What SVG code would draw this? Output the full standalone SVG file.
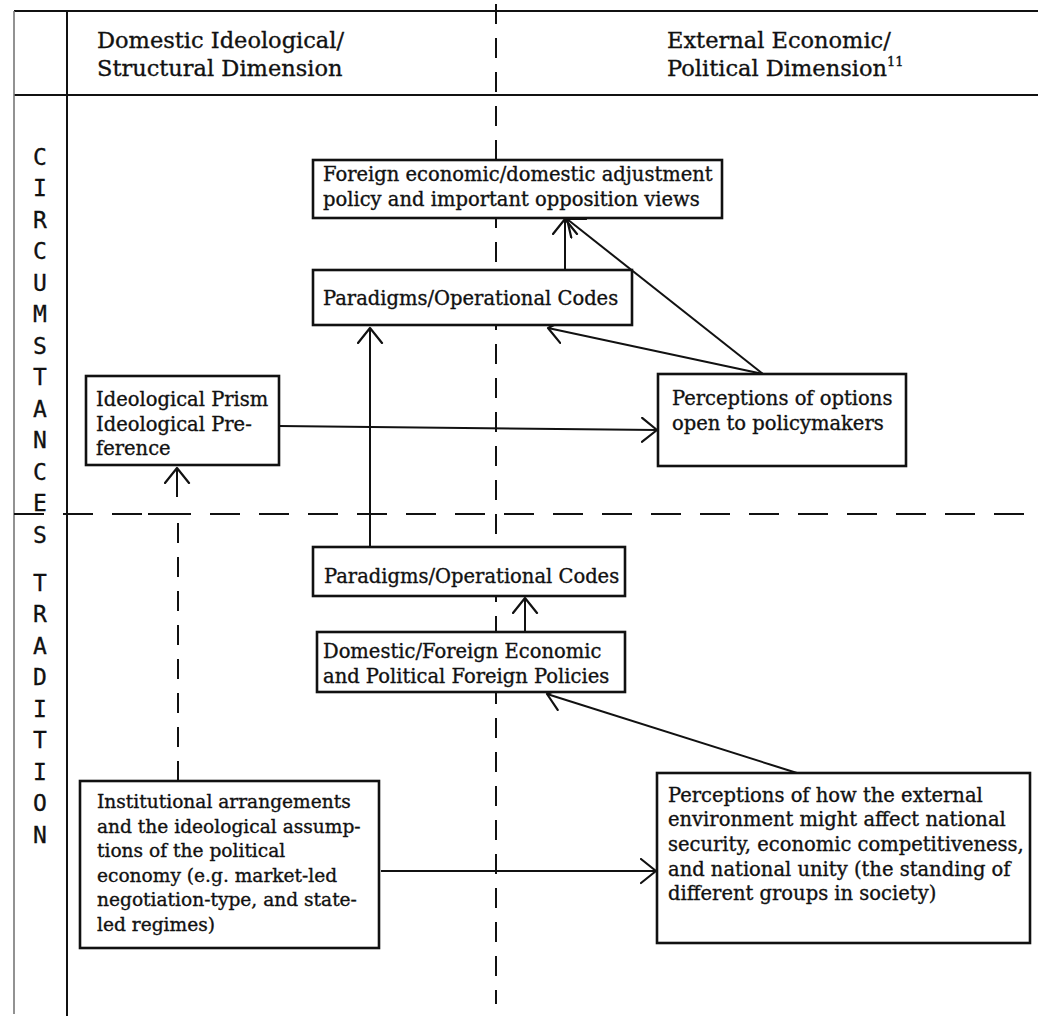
<svg xmlns="http://www.w3.org/2000/svg" width="1038" height="1020" viewBox="0 0 1038 1020">
<style>
.bg{fill:#fff}
.frame{stroke:#111;stroke-width:2;fill:none}
.faint{stroke:#777;stroke-width:1.6;fill:none}
.dash{stroke:#111;stroke-width:2;fill:none;stroke-dasharray:30 19}
.vdash{stroke:#111;stroke-width:2;fill:none;stroke-dasharray:20 14}
.box{fill:#fff;stroke:#111;stroke-width:2.6}
.line{stroke:#111;stroke-width:2;fill:none}
.t{font-family:"DejaVu Serif","Liberation Serif",serif;font-size:19.5px;fill:#111;stroke:#111;stroke-width:0.35}
.ts{font-size:18.6px}
.h{font-family:"DejaVu Serif","Liberation Serif",serif;font-size:22.5px;fill:#111;stroke:#111;stroke-width:0.35}
.sup{font-family:"DejaVu Serif","Liberation Serif",serif;font-size:13px;fill:#111}
.v{font-family:"DejaVu Sans Mono","Liberation Mono",monospace;font-size:23px;fill:#111;text-anchor:middle;stroke:#111;stroke-width:0.3}
</style>
<defs>
<marker id="arr" markerUnits="userSpaceOnUse" markerWidth="30" markerHeight="30" refX="16" refY="13" orient="auto">
<path d="M1,1 L16,13 L1,25" fill="none" stroke="#111" stroke-width="2.2" stroke-linecap="round" stroke-linejoin="round"/>
</marker>
</defs>
<rect class="bg" x="0" y="0" width="1038" height="1020"/>

<g id="frame">
<line class="frame" x1="14" y1="11" x2="1038" y2="11"/>
<line class="frame" x1="14" y1="95" x2="1038" y2="95"/>
<line class="faint" x1="14" y1="11" x2="14" y2="1014"/>
<line class="frame" x1="67" y1="11" x2="67" y2="1016"/>
<line class="vdash" x1="496" y1="4" x2="496" y2="1004"/>
<line class="dash" x1="14" y1="514" x2="1038" y2="514"/>
</g>

<g id="headers">
<text class="h" x="97" y="48">Domestic Ideological/</text>
<text class="h" x="97" y="76">Structural Dimension</text>
<text class="h" x="667" y="48">External Economic/</text>
<text class="h" x="667" y="76">Political Dimension<tspan class="sup" dy="-10">11</tspan></text>
</g>

<g id="side-labels">
<text class="v" x="40" y="165">C</text>
<text class="v" x="40" y="196">I</text>
<text class="v" x="40" y="228">R</text>
<text class="v" x="40" y="259">C</text>
<text class="v" x="40" y="291">U</text>
<text class="v" x="40" y="322">M</text>
<text class="v" x="40" y="354">S</text>
<text class="v" x="40" y="385">T</text>
<text class="v" x="40" y="417">A</text>
<text class="v" x="40" y="448">N</text>
<text class="v" x="40" y="480">C</text>
<text class="v" x="40" y="511">E</text>
<text class="v" x="40" y="543">S</text>
<text class="v" x="40" y="591">T</text>
<text class="v" x="40" y="622">R</text>
<text class="v" x="40" y="654">A</text>
<text class="v" x="40" y="685">D</text>
<text class="v" x="40" y="717">I</text>
<text class="v" x="40" y="748">T</text>
<text class="v" x="40" y="780">I</text>
<text class="v" x="40" y="811">O</text>
<text class="v" x="40" y="843">N</text>
</g>

<g id="connectors">
<line class="line" x1="565" y1="270" x2="565" y2="219" marker-end="url(#arr)"/>
<line class="line" x1="763" y1="374" x2="567" y2="219" marker-end="url(#arr)"/>
<line class="line" x1="763" y1="374" x2="548" y2="328" marker-end="url(#arr)"/>
<line class="line" x1="370" y1="547" x2="370" y2="328" marker-end="url(#arr)"/>
<line class="line" x1="279" y1="426" x2="657" y2="430" marker-end="url(#arr)"/>
<path class="vdash" d="M178,781 L178,514" />
<line class="line" x1="148" y1="514" x2="178" y2="514"/>
<line class="line" x1="177" y1="497" x2="177" y2="468" marker-end="url(#arr)"/>
<line class="line" x1="525" y1="632" x2="525" y2="598" marker-end="url(#arr)"/>
<line class="line" x1="797" y1="773" x2="547" y2="694" marker-end="url(#arr)"/>
<line class="line" x1="381" y1="871" x2="656" y2="871" marker-end="url(#arr)"/>
</g>

<g id="n-foreign-policy">
<rect class="box" x="313" y="160" width="409" height="58"/>
<text class="t" x="323" y="181">Foreign economic/domestic adjustment</text>
<text class="t" x="323" y="206">policy and important opposition views</text>
</g>

<g id="n-paradigms-top">
<rect class="box" x="313" y="270" width="319" height="55"/>
<text class="t" x="323" y="305">Paradigms/Operational Codes</text>
</g>

<g id="n-ideological-prism">
<rect class="box" x="86" y="376" width="193" height="89"/>
<text class="t" x="96" y="406">Ideological Prism</text>
<text class="t" x="96" y="431">Ideological Pre-</text>
<text class="t" x="96" y="455">ference</text>
</g>

<g id="n-perceptions-options">
<rect class="box" x="658" y="374" width="248" height="92"/>
<text class="t" x="672" y="405">Perceptions of options</text>
<text class="t" x="672" y="430">open to policymakers</text>
</g>

<g id="n-paradigms-bottom">
<rect class="box" x="313" y="547" width="312" height="49"/>
<text class="t" x="324" y="583">Paradigms/Operational Codes</text>
</g>

<g id="n-domestic-foreign">
<rect class="box" x="317" y="632" width="308" height="60"/>
<text class="t" x="323" y="658">Domestic/Foreign Economic</text>
<text class="t" x="323" y="683">and Political Foreign Policies</text>
</g>

<g id="n-institutional">
<rect class="box" x="80" y="781" width="299" height="167"/>
<text class="t ts" x="97" y="808">Institutional arrangements</text>
<text class="t ts" x="97" y="833">and the ideological assump-</text>
<text class="t ts" x="97" y="857">tions of the political</text>
<text class="t ts" x="97" y="882">economy (e.g. market-led</text>
<text class="t ts" x="97" y="906">negotiation-type, and state-</text>
<text class="t ts" x="97" y="931">led regimes)</text>
</g>

<g id="n-perceptions-external">
<rect class="box" x="657" y="773" width="373" height="170"/>
<text class="t" x="668" y="802">Perceptions of how the external</text>
<text class="t" x="668" y="826">environment might affect national</text>
<text class="t" x="668" y="851">security, economic competitiveness,</text>
<text class="t" x="668" y="876">and national unity (the standing of</text>
<text class="t" x="668" y="900">different groups in society)</text>
</g>
</svg>
